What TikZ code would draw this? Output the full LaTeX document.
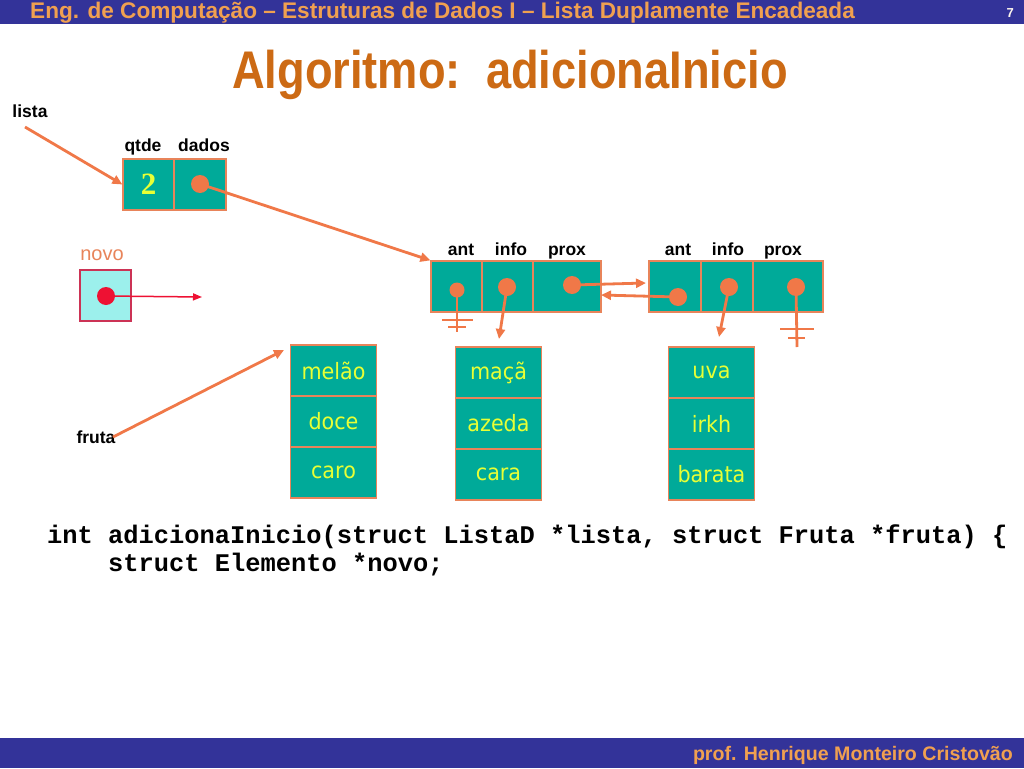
\documentclass[tikz,border=0pt]{standalone}
\usepackage{graphicx}
\usepackage{fontspec}
\setmainfont{Liberation Sans}
\newfontfamily\boxfont{DejaVu Sans}
\newfontfamily\codefont{Liberation Mono}
\newfontfamily\numfont{Liberation Serif}
\usetikzlibrary{arrows.meta}
\definecolor{barblue}{HTML}{333399}
\definecolor{hdorange}{HTML}{F0A050}
\definecolor{ttorange}{HTML}{CC6A14}
\definecolor{cellteal}{HTML}{00AA99}
\definecolor{celledge}{HTML}{E8845A}
\definecolor{ptrorange}{HTML}{F07848}
\definecolor{txtyellow}{HTML}{E8FF35}
\definecolor{novocyan}{HTML}{9CF0EC}
\definecolor{novoedge}{HTML}{CC3355}
\definecolor{novored}{HTML}{EE1133}
\tikzset{
  cell/.style={draw=celledge, line width=1.2pt, fill=cellteal, minimum height=51pt, inner sep=0pt},
  fcell/.style={cell, minimum width=86pt, text=txtyellow, font=\boxfont\fontsize{22.5}{22.5}\selectfont},
  dot/.style={circle, fill=ptrorange, inner sep=0pt, minimum size=18pt},
  lbl/.style={font=\bfseries\fontsize{17.5}{17.5}\selectfont, inner sep=0pt, anchor=base},
  ptr/.style={draw=ptrorange, line width=2.8pt, -{Triangle[length=10pt,width=9pt]}},
  gnd/.style={draw=ptrorange, line width=2.8pt}
}
\begin{document}
\begin{tikzpicture}[x=1pt, y=-1pt]
\useasboundingbox (0,0) rectangle (1024,768);
\fill[white] (0,0) rectangle (1024,768);
\fill[barblue] (0,0) rectangle (1024,24);
\fill[barblue] (0,738) rectangle (1024,768);
\node[anchor=base west, inner sep=0pt, text=hdorange] (hdr) at (30,18.5) {\fontsize{22.6}{22.6}\selectfont\bfseries Eng. de Computação – Estruturas de Dados I – Lista Duplamente Encadeada};
\node[anchor=base east, inner sep=0pt, text=white!90!hdorange] (pg) at (1014,18) {\fontsize{13}{13}\selectfont\bfseries 7};
\node[anchor=base, inner sep=0pt, text=ttorange] (ttl) at (510,88) {\scalebox{0.854}[1]{\fontsize{53}{53}\selectfont\bfseries Algoritmo:\ \ adicionaInicio}};
\node[anchor=base east, inner sep=0pt, text=hdorange] (ftr) at (1013,760) {\fontsize{19.6}{19.6}\selectfont\bfseries prof. Henrique Monteiro Cristovão};
\node[lbl] (lista) at (30,117) {lista};
\coordinate (l0) at (25,127);
\node[lbl] (qt) at (143,151) {qtde};
\node[lbl] (dd) at (204,151) {dados};
\node[cell, minimum width=51pt] (h0) at (148.5,184.5) {\numfont\bfseries\fontsize{31}{31}\selectfont\color{txtyellow}2};
\node[cell, minimum width=52pt] (h1) at (200,184.5) {};
\node[dot] (h1d) at (200,184) {};
\node[text=celledge, inner sep=0pt, anchor=base, font=\fontsize{20}{20}\selectfont] (nvl) at (102,260) {novo};
\node[draw=novoedge, line width=1.2pt, fill=novocyan, minimum size=51pt, inner sep=0pt] (nv) at (105.5,295.5) {};
\node[circle, fill=novored, inner sep=0pt, minimum size=18pt] (nvd) at (106,296) {};
\coordinate (nve) at (202,297);
\node[lbl] (a1l) at (461,255) {ant};
\node[lbl] (i1l) at (511,255) {info};
\node[lbl] (p1l) at (567,255) {prox};
\node[cell, minimum width=51pt] (a1) at (456.5,286.5) {};
\node[cell, minimum width=51pt] (i1) at (507.5,286.5) {};
\node[cell, minimum width=68pt] (p1) at (567,286.5) {};
\node[lbl] (a2l) at (678,255) {ant};
\node[lbl] (i2l) at (728,255) {info};
\node[lbl] (p2l) at (783,255) {prox};
\node[cell, minimum width=52pt] (a2) at (675,286.5) {};
\node[cell, minimum width=52pt] (i2) at (727,286.5) {};
\node[cell, minimum width=70pt] (p2) at (788,286.5) {};
\coordinate (g1) at (457,332);
\coordinate (g1a) at (442,320);
\coordinate (g1b) at (473,320);
\coordinate (g1c) at (448,327);
\coordinate (g1d) at (466,327);
\coordinate (g2) at (797,347);
\coordinate (g2a) at (780,329);
\coordinate (g2b) at (814,329);
\coordinate (g2c) at (788,338);
\coordinate (g2d) at (805,338);
\coordinate (i1e) at (499,339);
\coordinate (i2e) at (719,337);
\coordinate (p1e) at (646,283);
\coordinate (a2e) at (601,295);
\node[fcell] (f1a) at (333.5,370.5) {\scalebox{0.92}[1]{melão}};
\node[fcell] (f1b) at (333.5,421.5) {\scalebox{0.92}[1]{doce}};
\node[fcell] (f1c) at (333.5,472.5) {\scalebox{0.92}[1]{caro}};
\node[fcell] (f2a) at (498.5,372.5) {\scalebox{0.92}[1]{maçã}};
\node[fcell] (f2b) at (498.5,423.5) {\scalebox{0.92}[1]{azeda}};
\node[fcell] (f2c) at (498.5,474.5) {\scalebox{0.92}[1]{cara}};
\node[fcell] (f3a) at (711.5,372.5) {\scalebox{0.92}[1]{uva}};
\node[fcell] (f3b) at (711.5,423.5) {\scalebox{0.92}[1]{irkh}};
\node[fcell] (f3c) at (711.5,474.5) {\scalebox{0.92}[1]{barata}};
\node[lbl] (fr) at (96,443) {fruta};
\coordinate (fr0) at (113,437);
\coordinate (fre) at (284,350);
\draw[ptr](l0) -- (h0.west);
\draw[ptr](h1d.center) -- (a1.north west);
\draw[draw=novored, line width=1.5pt, -{Triangle[length=9pt,width=7pt]}](nvd.center) -- (nve);
\draw[gnd](457,290) -- (g1);
\draw[gnd](g1a) -- (g1b);
\draw[gnd](g1c) -- (g1d);
\draw[gnd](796,287) -- (g2);
\draw[gnd](g2a) -- (g2b);
\draw[gnd](g2c) -- (g2d);
\draw[ptr](507,287) -- (i1e);
\draw[ptr](729,287) -- (i2e);
\draw[ptr](572,285) -- (p1e);
\draw[ptr](678,297) -- (a2e);
\draw[ptr](fr0) -- (fre);
\node[circle, fill=ptrorange, inner sep=0pt, minimum width=15pt, minimum height=13pt] (a1d) at (457,290) {};
\node[dot] (i1d) at (507,287) {};
\node[dot] (p1d) at (572,285) {};
\node[dot] (a2d) at (678,297) {};
\node[dot] (i2d) at (729,287) {};
\node[dot] (p2d) at (796,287) {};
\node[anchor=base west, inner sep=0pt, font=\codefont\bfseries\fontsize{25.4}{25.4}\selectfont] (c1) at (47,543) {int adicionaInicio(struct ListaD *lista, struct Fruta *fruta) \{};
\node[anchor=base west, inner sep=0pt, font=\codefont\bfseries\fontsize{25.4}{25.4}\selectfont] (c2) at (108,571) {struct Elemento *novo;};
\end{tikzpicture}
\end{document}
